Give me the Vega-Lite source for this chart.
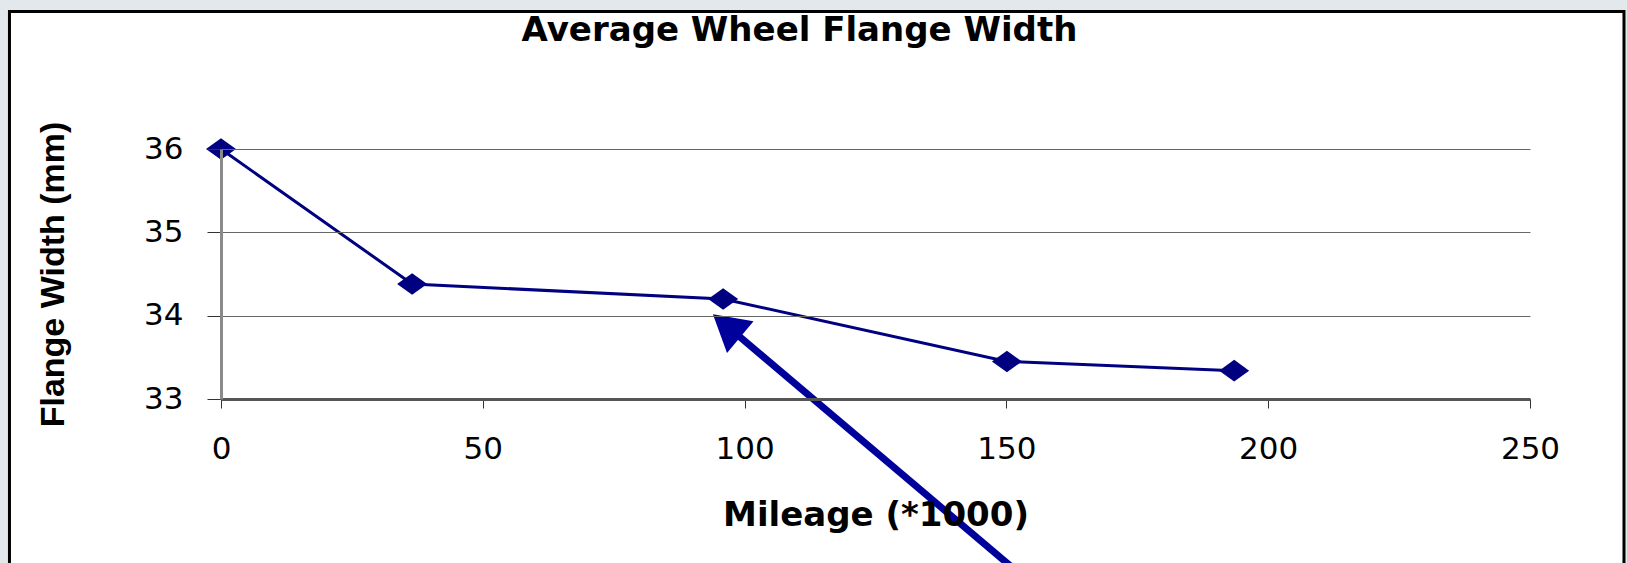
{
  "$schema": "https://vega.github.io/schema/vega-lite/v6.json",
  "width": 1309,
  "height": 250,
  "autosize": {"type": "none"},
  "padding": {"left": 221, "top": 149, "right": 97, "bottom": 164},
  "background": "#e3e8ed",
  "config": {"view": {"stroke": "#8a8a8a", "strokeWidth": 3}},
  "title": {
    "text": "Average Wheel Flange Width",
    "font": "DejaVu Sans",
    "fontSize": 34,
    "fontWeight": "bold",
    "color": "#000000",
    "anchor": "middle",
    "frame": "group",
    "baseline": "alphabetic",
    "dx": -76,
    "offset": -30,
    "dy": 35
  },
  "layer": [
    {
      "data": {"values": [{}]},
      "mark": {"type": "rect", "fill": "white", "stroke": "black", "strokeWidth": 3},
      "encoding": {
        "x": {"datum": -40.4, "type": "quantitative", "scale": {"domain": [0, 250], "nice": false, "zero": false}},
        "x2": {"datum": 267.95},
        "y": {"datum": 37.65, "type": "quantitative", "scale": {"domain": [33, 36], "nice": false, "zero": false}},
        "y2": {"datum": 30.8}
      }
    },
    {
      "data": {
        "values": [
          {"mileage": 0, "width": 36.0},
          {"mileage": 36.5, "width": 34.38},
          {"mileage": 95.9, "width": 34.2},
          {"mileage": 150.1, "width": 33.45},
          {"mileage": 193.5, "width": 33.34}
        ]
      },
      "mark": {
        "type": "line",
        "color": "#000080",
        "strokeWidth": 3,
        "point": {"filled": true, "shape": "M-1,0L0,-0.72L1,0L0,0.72Z", "size": 900, "color": "#000080", "opacity": 1}
      },
      "encoding": {
        "x": {
          "field": "mileage",
          "type": "quantitative",
          "axis": {
            "title": "Mileage (*1000)",
            "values": [0, 50, 100, 150, 200, 250],
            "format": "d",
            "grid": false,
            "domainColor": "#555555",
            "domainWidth": 3,
            "tickColor": "#333333",
            "tickSize": 9,
            "tickWidth": 1,
            "labelFont": "DejaVu Sans",
            "labelFontSize": 31,
            "labelColor": "#000000",
            "labelPadding": 50,
            "labelBaseline": "alphabetic",
            "labelFlush": false,
            "labelOverlap": false,
            "titleFont": "DejaVu Sans",
            "titleFontSize": 34,
            "titleFontWeight": "bold",
            "titleColor": "#000000",
            "titleY": 126,
            "titleBaseline": "alphabetic",
            "zindex": 1
          }
        },
        "y": {
          "field": "width",
          "type": "quantitative",
          "axis": {
            "title": "Flange Width (mm)",
            "values": [33, 34, 35, 36],
            "format": "d",
            "grid": true,
            "gridColor": "#666666",
            "gridWidth": 1,
            "domainColor": "#8a8a8a",
            "domainWidth": 3,
            "tickColor": "#333333",
            "tickSize": 14,
            "tickWidth": 1,
            "labelFont": "DejaVu Sans",
            "labelFontSize": 31,
            "labelColor": "#000000",
            "labelPadding": 24,
            "labelFlush": false,
            "labelOverlap": false,
            "titleFont": "Liberation Sans",
            "titleFontSize": 34,
            "titleFontWeight": "bold",
            "titleColor": "#000000",
            "titleX": -158,
            "titleY": 125,
            "titleBaseline": "alphabetic",
            "zindex": 1
          }
        }
      }
    },
    {
      "data": {"values": [{}]},
      "mark": {"type": "rule", "color": "#00009a", "strokeWidth": 7, "strokeCap": "butt"},
      "encoding": {
        "x": {"datum": 153.9, "type": "quantitative"},
        "y": {"datum": 30.83, "type": "quantitative"},
        "x2": {"datum": 96.56},
        "y2": {"datum": 33.88}
      }
    },
    {
      "data": {"values": [{}]},
      "mark": {"type": "point", "shape": "triangle-up", "angle": 310, "size": 1700, "filled": true, "color": "#00009a", "opacity": 1},
      "encoding": {
        "x": {"datum": 96.56, "type": "quantitative"},
        "y": {"datum": 33.88, "type": "quantitative"}
      }
    }
  ]
}
